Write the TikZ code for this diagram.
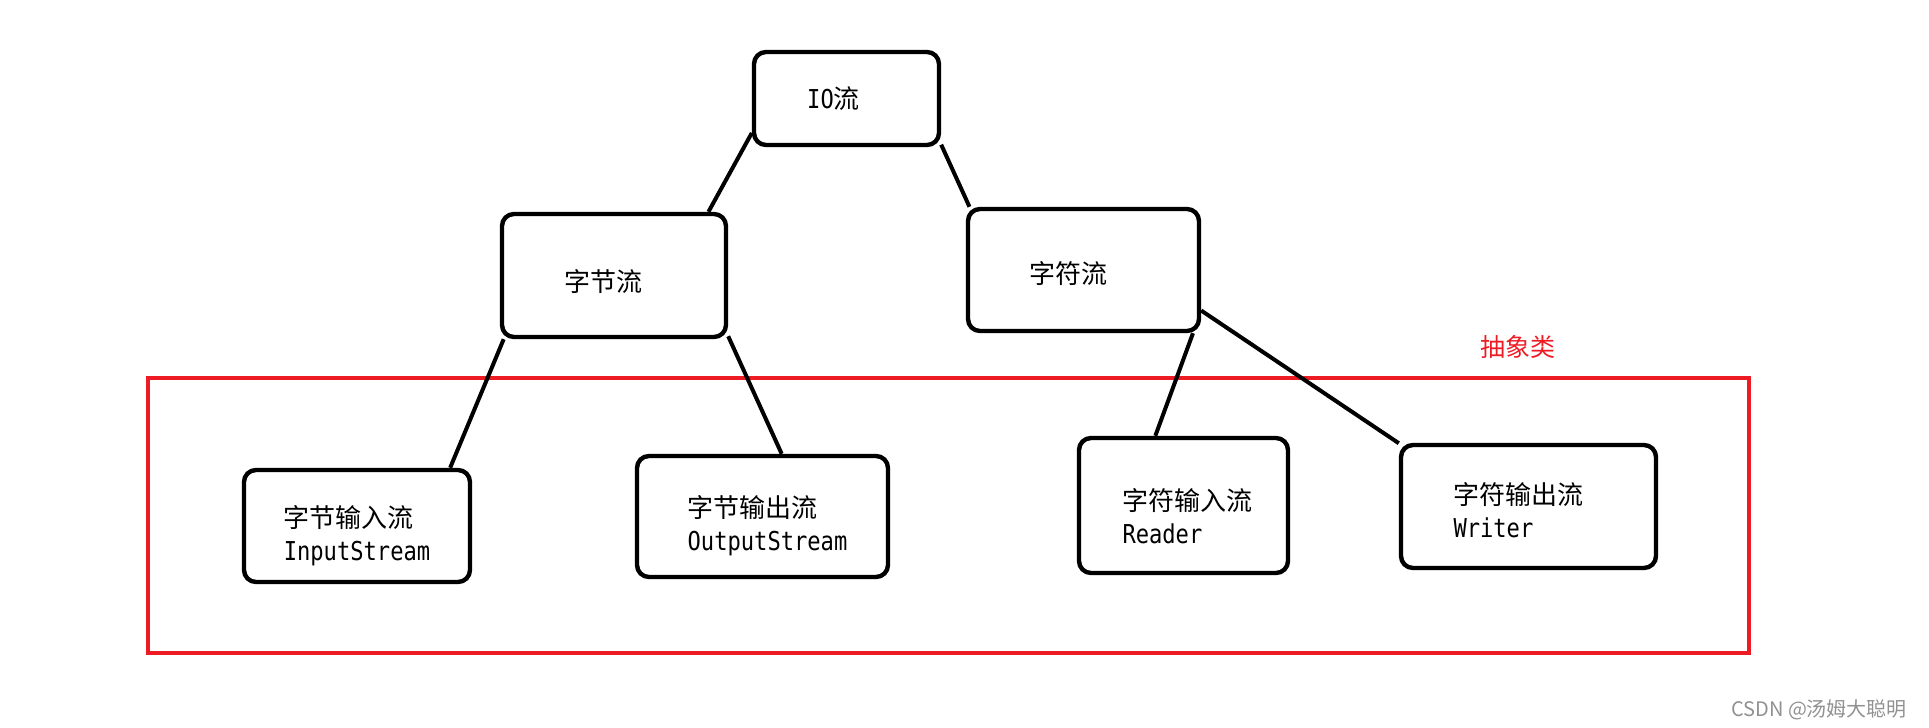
\documentclass[tikz,border=0pt]{standalone}
\usepackage{fontspec}
\setmainfont{Noto Sans CJK SC}
\setmonofont[FakeStretch=0.85]{DejaVu Sans Mono}
\definecolor{paintred}{RGB}{237,28,36}
\definecolor{markgray}{RGB}{145,145,145}

\begin{document}
\begin{tikzpicture}[x=0.5pt,y=-0.5pt,
	box/.style={draw,line width=2.2pt,rounded corners=6pt},
	txt/.style={align=left,inner sep=0pt,font=\fontsize{13}{16.5}\selectfont},
	link/.style={line width=2pt},
	frame/.style={draw=paintred,line width=2pt}]
		
		\useasboundingbox (0,0) rectangle (1929,728);
		
		%--- abstract classes frame first (boxes drawn later sit on top) ---
		\node[frame,minimum width=800.5pt,minimum height=137.5pt] (abs) at (948.5,515.5) {};
		\node[text=paintred,font=\fontsize{12.5}{15}\selectfont] (abslab) at (1518,347) {抽象类};
		
		% top level
		\node[box,minimum width=92.5pt,minimum height=46.5pt] (io) at (846.5,98.5) {};
		\node[txt] (io-t) at ([shift={(-13,0)}]io.center) {{\ttfamily IO}流};
		
		% second level
		\node[box,minimum width=112pt,minimum height=61.5pt] (zjl) at (614,275.5) {};
		\node[txt] (zjl-t) at ([shift={(-11,6)}]zjl.center) {字节流};
		\node[box,minimum width=115.5pt,minimum height=61pt] (zfl) at (1083.5,270) {};
		\node[txt] (zfl-t) at ([shift={(-15,4)}]zfl.center) {字符流};
		
		% third level (inside the frame)
		\node[box,minimum width=113pt,minimum height=56pt] (zjin) at (357,526) {};
		\node[txt] (zjin-t) at ([shift={(0,10)}]zjin.center) {字节输入流\\{\ttfamily InputStream}};
		\node[box,minimum width=125.5pt,minimum height=60.5pt] (zjout) at (762.5,516.5) {};
		\node[txt] (zjout-t) at ([shift={(5,9)}]zjout.center) {字节输出流\\{\ttfamily OutputStream}};
		\node[box,minimum width=104.5pt,minimum height=67.5pt] (zfin) at (1183.5,505.5) {};
		\node[txt] (zfin-t) at ([shift={(4,11)}]zfin.center) {字符输入流\\{\ttfamily Reader}};
		\node[box,minimum width=127.5pt,minimum height=61.5pt] (zfout) at (1528.5,506.5) {};
		\node[txt] (zfout-t) at ([shift={(-10,4)}]zfout.center) {字符输出流\\{\ttfamily Writer}};
		
		%--- tree edges ---
		\draw[link] (io.200) -- (zjl.34);
		\draw[link] (io.334) -- (zfl.151);
		\draw[link] (zjl.210) -- (zjin.32);
		\draw[link] (zjl.332) -- (zjout.73);
		\draw[link] (zfl.330) -- (zfin.112);
		\draw[link] (zfl.341) -- (zfout.154);
		
		% watermark
		\node[anchor=east,text=markgray,font=\fontsize{10}{12}\selectfont] (mark) at (1914,710) {CSDN @汤姆大聪明};
		
	\end{tikzpicture}
\end{document}
